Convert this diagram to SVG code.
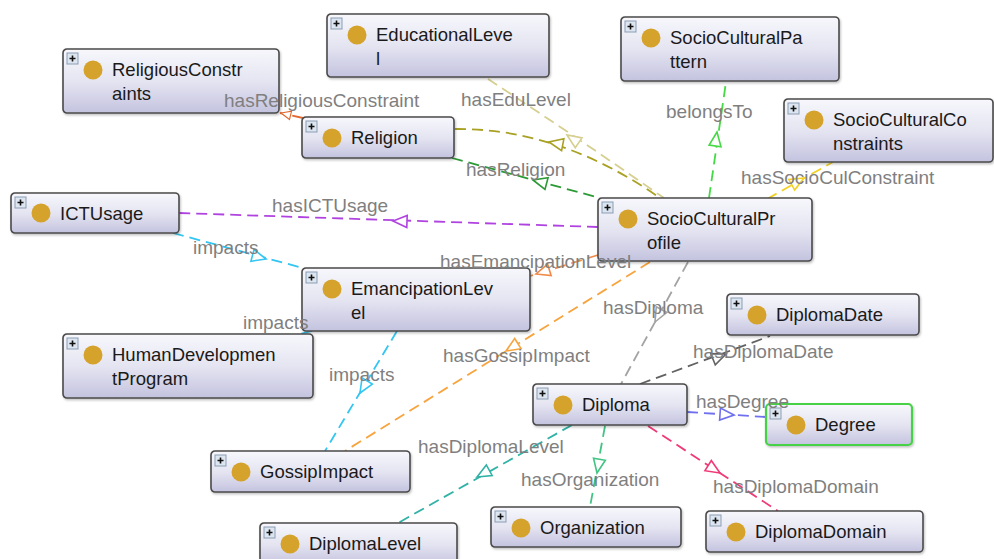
<svg xmlns="http://www.w3.org/2000/svg" xmlns:xlink="http://www.w3.org/1999/xlink" width="994" height="559" viewBox="0 0 994 559">
  <defs>
    <linearGradient id="nodeFill" x1="0" y1="0" x2="0" y2="1">
      <stop offset="0" stop-color="#f7f7fc"/>
      <stop offset="0.5" stop-color="#e5e5f2"/>
      <stop offset="1" stop-color="#c4c3df"/>
    </linearGradient>
    <filter id="shadow" x="-5%" y="-10%" width="110%" height="130%">
      <feDropShadow dx="1" dy="1.5" stdDeviation="1.2" flood-color="#000" flood-opacity="0.25"/>
    </filter>
    <!-- open triangle arrowhead, tip at origin, pointing along +x -->
    <path id="tri" d="M0,0 L-14,-6 L-14,6 Z"/>
    <g id="plus">
      <rect x="0" y="0" width="11" height="11" fill="#dde6f0" stroke="#8a9db3" stroke-width="1"/>
      <path d="M2.5,5.5 H8.5 M5.5,2.5 V8.5" stroke="#111" stroke-width="1.6"/>
    </g>
  </defs>
  <style>
    .node rect.box { fill: url(#nodeFill); stroke: #4a4a4a; stroke-width: 1.6; filter: url(#shadow); }
    .node rect.sel { stroke: #47d147; stroke-width: 2.2; }
    .node circle { fill: #d5a22b; }
    .node text { font-family: "Liberation Sans", Arial, sans-serif; font-size: 18.5px; fill: #1a1a1a; }
    .edge { fill: none; stroke-width: 1.8; stroke-dasharray: 11 6; }
    .head { fill: #ffffff; stroke-width: 1.6; stroke-linejoin: miter; }
    .lbl { font-family: "Liberation Sans", Arial, sans-serif; font-size: 19px; fill: #7f7f7f; }
  </style>

  <rect width="994" height="559" fill="#ffffff"/>

  <g id="connectors">
    <!-- hasReligiousConstraint -->
    <path class="edge" stroke="#e2682e" d="M303,118 L280,113"/>
    <use xlink:href="#tri" class="head" stroke="#e2682e" transform="translate(281,113) rotate(194) scale(0.7)"/>
    <!-- hasEduLevel -->
    <path class="edge" stroke="#d6cf90" d="M488,79 Q575,136 664,198"/>
    <use xlink:href="#tri" class="head" stroke="#d6cf90" transform="translate(567,135) rotate(214)"/>
    <!-- Religion to profile (curved) -->
    <path class="edge" stroke="#a9a124" d="M455,129 Q560,128 660,198"/>
    <use xlink:href="#tri" class="head" stroke="#a9a124" transform="translate(549,142) rotate(191)"/>
    <!-- hasReligion -->
    <path class="edge" stroke="#2c9a35" d="M452,158 L600,198"/>
    <use xlink:href="#tri" class="head" stroke="#2c9a35" transform="translate(533,180) rotate(195)"/>
    <!-- belongsTo -->
    <path class="edge" stroke="#46d846" d="M709,198 L726,82"/>
    <use xlink:href="#tri" class="head" stroke="#46d846" transform="translate(717,132) rotate(-82)"/>
    <!-- hasSocioCulConstraint -->
    <path class="edge" stroke="#f2d126" d="M767,199 L833,162"/>
    <use xlink:href="#tri" class="head" stroke="#f2d126" transform="translate(804,178) rotate(-29)"/>
    <!-- hasICTUsage -->
    <path class="edge" stroke="#b043e0" d="M598,227 L179,213"/>
    <use xlink:href="#tri" class="head" stroke="#b043e0" transform="translate(393,221) rotate(182)"/>
    <!-- impacts: ICTUsage to EmancipationLevel -->
    <path class="edge" stroke="#33c6f2" d="M173,233 L303,268"/>
    <use xlink:href="#tri" class="head" stroke="#33c6f2" transform="translate(266,259) rotate(15)"/>
    <!-- impacts: EmancipationLevel to HumanDevelopmentProgram -->
    <path class="edge" stroke="#33c6f2" d="M312,331 L296,335"/>
    <!-- impacts: EmancipationLevel to GossipImpact -->
    <path class="edge" stroke="#33c6f2" d="M397,331 L325,451"/>
    <use xlink:href="#tri" class="head" stroke="#33c6f2" transform="translate(360,393) rotate(121)"/>
    <!-- hasEmancipationLevel -->
    <path class="edge" stroke="#f08a48" d="M598,255 L530,276"/>
    <use xlink:href="#tri" class="head" stroke="#f08a48" transform="translate(536,274) rotate(163)"/>
    <!-- hasGossipImpact -->
    <path class="edge" stroke="#f8a43e" d="M650,262 L345,451"/>
    <use xlink:href="#tri" class="head" stroke="#f8a43e" transform="translate(506,351) rotate(148)"/>
    <!-- hasDiploma -->
    <path class="edge" stroke="#a3a3a3" d="M688,262 L621,384"/>
    <use xlink:href="#tri" class="head" stroke="#a3a3a3" transform="translate(655,322) rotate(118)"/>
    <!-- hasDiplomaDate -->
    <path class="edge" stroke="#626262" d="M640,384 L770,336"/>
    <use xlink:href="#tri" class="head" stroke="#626262" transform="translate(726,354) rotate(-22)"/>
    <!-- hasDegree -->
    <path class="edge" stroke="#6f6ff0" d="M687,412 L766,417"/>
    <use xlink:href="#tri" class="head" stroke="#6f6ff0" transform="translate(734,415) rotate(4)"/>
    <!-- hasDiplomaDomain -->
    <path class="edge" stroke="#f03a78" d="M648,426 L778,511"/>
    <use xlink:href="#tri" class="head" stroke="#f03a78" transform="translate(720,473) rotate(32)"/>
    <!-- hasOrganization -->
    <path class="edge" stroke="#42c484" d="M605,426 L590,507"/>
    <use xlink:href="#tri" class="head" stroke="#42c484" transform="translate(597,473) rotate(100)"/>
    <!-- hasDiplomaLevel -->
    <path class="edge" stroke="#30b2a6" d="M572,425 L398,523"/>
    <use xlink:href="#tri" class="head" stroke="#30b2a6" transform="translate(477,477) rotate(151)"/>
  </g>

  <g id="ReligiousConstraints" class="node" transform="translate(63,49)">
    <rect class="box" width="216" height="64" rx="4"/>
    <use xlink:href="#plus" x="4" y="4"/>
    <circle cx="30" cy="21" r="9.5"/>
    <text x="49" y="27">ReligiousConstr</text>
    <text x="49" y="51">aints</text>
  </g>

  <g id="EducationalLevel" class="node" transform="translate(327,14)">
    <rect class="box" width="222" height="63" rx="4"/>
    <use xlink:href="#plus" x="4" y="4"/>
    <circle cx="30" cy="21" r="9.5"/>
    <text x="49" y="27">EducationalLeve</text>
    <text x="49" y="51">l</text>
  </g>

  <g id="Religion" class="node" transform="translate(302,117)">
    <rect class="box" width="152" height="41" rx="4"/>
    <use xlink:href="#plus" x="4" y="4"/>
    <circle cx="30" cy="21" r="9.5"/>
    <text x="49" y="27">Religion</text>
  </g>

  <g id="SocioCulturalPattern" class="node" transform="translate(621,17)">
    <rect class="box" width="218" height="64" rx="4"/>
    <use xlink:href="#plus" x="4" y="4"/>
    <circle cx="30" cy="21" r="9.5"/>
    <text x="49" y="27">SocioCulturalPa</text>
    <text x="49" y="51">ttern</text>
  </g>

  <g id="SocioCulturalConstraints" class="node" transform="translate(784,99)">
    <rect class="box" width="209" height="63" rx="4"/>
    <use xlink:href="#plus" x="4" y="4"/>
    <circle cx="30" cy="21" r="9.5"/>
    <text x="49" y="27">SocioCulturalCo</text>
    <text x="49" y="51">nstraints</text>
  </g>

  <g id="ICTUsage" class="node" transform="translate(11,193)">
    <rect class="box" width="168" height="40" rx="4"/>
    <use xlink:href="#plus" x="4" y="4"/>
    <circle cx="30" cy="20" r="9.5"/>
    <text x="49" y="27">ICTUsage</text>
  </g>

  <g id="SocioCulturalProfile" class="node" transform="translate(598,198)">
    <rect class="box" width="214" height="63" rx="4"/>
    <use xlink:href="#plus" x="4" y="4"/>
    <circle cx="30" cy="21" r="9.5"/>
    <text x="49" y="27">SocioCulturalPr</text>
    <text x="49" y="51">ofile</text>
  </g>

  <g id="EmancipationLevel" class="node" transform="translate(302,268)">
    <rect class="box" width="228" height="63" rx="4"/>
    <use xlink:href="#plus" x="4" y="4"/>
    <circle cx="30" cy="21" r="9.5"/>
    <text x="49" y="27">EmancipationLev</text>
    <text x="49" y="51">el</text>
  </g>

  <g id="HumanDevelopmentProgram" class="node" transform="translate(63,334)">
    <rect class="box" width="250" height="64" rx="4"/>
    <use xlink:href="#plus" x="4" y="4"/>
    <circle cx="30" cy="21" r="9.5"/>
    <text x="49" y="27">HumanDevelopmen</text>
    <text x="49" y="51">tProgram</text>
  </g>

  <g id="DiplomaDate" class="node" transform="translate(727,294)">
    <rect class="box" width="192" height="41" rx="4"/>
    <use xlink:href="#plus" x="4" y="4"/>
    <circle cx="30" cy="21" r="9.5"/>
    <text x="49" y="27">DiplomaDate</text>
  </g>

  <g id="Diploma" class="node" transform="translate(533,384)">
    <rect class="box" width="154" height="41" rx="4"/>
    <use xlink:href="#plus" x="4" y="4"/>
    <circle cx="30" cy="21" r="9.5"/>
    <text x="49" y="27">Diploma</text>
  </g>

  <g id="Degree" class="node" transform="translate(766,404)">
    <rect class="box sel" width="146" height="41" rx="4"/>
    <use xlink:href="#plus" x="4" y="4"/>
    <circle cx="30" cy="21" r="9.5"/>
    <text x="49" y="27">Degree</text>
  </g>

  <g id="GossipImpact" class="node" transform="translate(211,451)">
    <rect class="box" width="199" height="41" rx="4"/>
    <use xlink:href="#plus" x="4" y="4"/>
    <circle cx="30" cy="21" r="9.5"/>
    <text x="49" y="27">GossipImpact</text>
  </g>

  <g id="Organization" class="node" transform="translate(491,507)">
    <rect class="box" width="190" height="40" rx="4"/>
    <use xlink:href="#plus" x="4" y="4"/>
    <circle cx="30" cy="21" r="9.5"/>
    <text x="49" y="27">Organization</text>
  </g>

  <g id="DiplomaDomain" class="node" transform="translate(706,511)">
    <rect class="box" width="217" height="41" rx="4"/>
    <use xlink:href="#plus" x="4" y="4"/>
    <circle cx="30" cy="21" r="9.5"/>
    <text x="49" y="27">DiplomaDomain</text>
  </g>

  <g id="DiplomaLevel" class="node" transform="translate(260,523)">
    <rect class="box" width="197" height="42" rx="4"/>
    <use xlink:href="#plus" x="4" y="4"/>
    <circle cx="30" cy="21" r="9.5"/>
    <text x="49" y="27">DiplomaLevel</text>
  </g>

  <!-- property labels, drawn above the nodes -->
  <g id="connector-labels">
    <text class="lbl" x="224" y="107">hasReligiousConstraint</text>
    <text class="lbl" x="461" y="106">hasEduLevel</text>
    <text class="lbl" x="466" y="176">hasReligion</text>
    <text class="lbl" x="666" y="118">belongsTo</text>
    <text class="lbl" x="741" y="184">hasSocioCulConstraint</text>
    <text class="lbl" x="272" y="212">hasICTUsage</text>
    <text class="lbl" x="193" y="254">impacts</text>
    <text class="lbl" x="243" y="329">impacts</text>
    <text class="lbl" x="329" y="381">impacts</text>
    <text class="lbl" x="440" y="268">hasEmancipationLevel</text>
    <text class="lbl" x="443" y="362">hasGossipImpact</text>
    <text class="lbl" x="603" y="314">hasDiploma</text>
    <text class="lbl" x="693" y="358">hasDiplomaDate</text>
    <text class="lbl" x="696" y="408">hasDegree</text>
    <text class="lbl" x="713" y="493">hasDiplomaDomain</text>
    <text class="lbl" x="521" y="486">hasOrganization</text>
    <text class="lbl" x="418" y="453">hasDiplomaLevel</text>
  </g>
</svg>
